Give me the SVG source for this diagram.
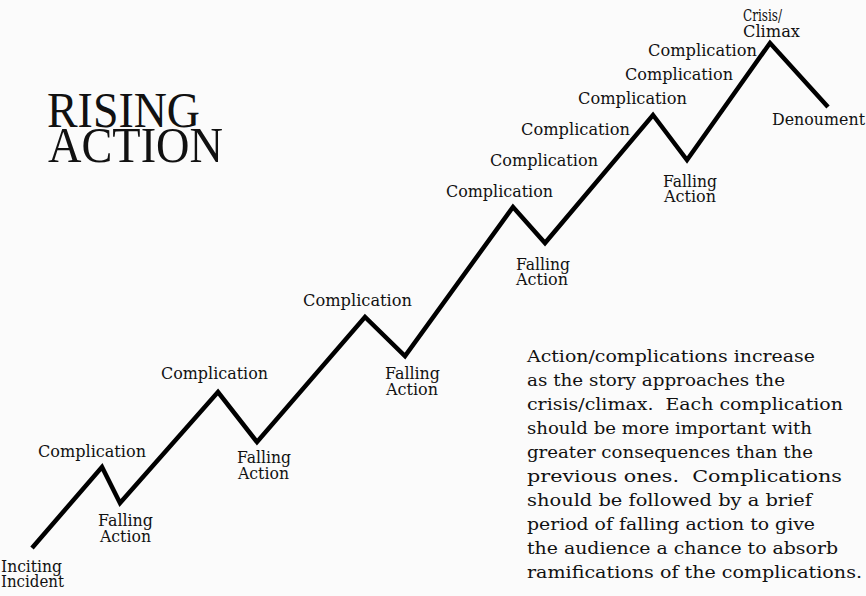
<svg xmlns="http://www.w3.org/2000/svg" width="866" height="596" viewBox="0 0 866 596">
<style>
text{font-family:"DejaVu Serif","Liberation Serif",serif;fill:#111}
.l{font-size:16px}
.p{font-size:17px}
.t{font-family:"Liberation Serif","Times New Roman",serif;font-size:50px}
.line{fill:none;stroke:#000;stroke-width:4.5;stroke-linejoin:miter;stroke-linecap:butt}
</style>
<rect width="866" height="596" fill="#fbfbfb"/>
<g id="title">
<text class="t" x="47" y="127" textLength="153" lengthAdjust="spacingAndGlyphs">RISING</text>
<text class="t" x="48" y="162" textLength="175" lengthAdjust="spacingAndGlyphs">ACTION</text>
</g>
<g id="connectors">
<polyline class="line" points="32,548 102,467 120,503 218,392 257,442 365,317 405,356 513,207 545,243 653,115 687,160 770,43 828,107"/>
</g>
<g id="inciting">
<text class="l" x="1" y="572" textLength="61" lengthAdjust="spacingAndGlyphs">Inciting</text>
<text class="l" x="1" y="587" textLength="63" lengthAdjust="spacingAndGlyphs">Incident</text>
</g>
<g id="comp1"><text class="l" x="38" y="457" textLength="108" lengthAdjust="spacingAndGlyphs">Complication</text></g>
<g id="fall1">
<text class="l" x="98" y="526" textLength="55" lengthAdjust="spacingAndGlyphs">Falling</text>
<text class="l" x="100" y="542" textLength="51" lengthAdjust="spacingAndGlyphs">Action</text>
</g>
<g id="comp2"><text class="l" x="161" y="379" textLength="107" lengthAdjust="spacingAndGlyphs">Complication</text></g>
<g id="fall2">
<text class="l" x="237" y="463" textLength="54" lengthAdjust="spacingAndGlyphs">Falling</text>
<text class="l" x="238" y="479" textLength="51" lengthAdjust="spacingAndGlyphs">Action</text>
</g>
<g id="comp3"><text class="l" x="303" y="306" textLength="109" lengthAdjust="spacingAndGlyphs">Complication</text></g>
<g id="fall3">
<text class="l" x="385" y="379" textLength="55" lengthAdjust="spacingAndGlyphs">Falling</text>
<text class="l" x="386" y="395" textLength="52" lengthAdjust="spacingAndGlyphs">Action</text>
</g>
<g id="comp4"><text class="l" x="446" y="197" textLength="107" lengthAdjust="spacingAndGlyphs">Complication</text></g>
<g id="fall4">
<text class="l" x="516" y="270" textLength="54" lengthAdjust="spacingAndGlyphs">Falling</text>
<text class="l" x="516" y="285" textLength="52" lengthAdjust="spacingAndGlyphs">Action</text>
</g>
<g id="comp5"><text class="l" x="490" y="166" textLength="108" lengthAdjust="spacingAndGlyphs">Complication</text></g>
<g id="comp6"><text class="l" x="521" y="135" textLength="109" lengthAdjust="spacingAndGlyphs">Complication</text></g>
<g id="comp7"><text class="l" x="578" y="104" textLength="109" lengthAdjust="spacingAndGlyphs">Complication</text></g>
<g id="fall5">
<text class="l" x="663" y="187" textLength="54" lengthAdjust="spacingAndGlyphs">Falling</text>
<text class="l" x="664" y="202" textLength="52" lengthAdjust="spacingAndGlyphs">Action</text>
</g>
<g id="comp8"><text class="l" x="625" y="80" textLength="108" lengthAdjust="spacingAndGlyphs">Complication</text></g>
<g id="comp9"><text class="l" x="648" y="56" textLength="109" lengthAdjust="spacingAndGlyphs">Complication</text></g>
<g id="climax">
<text class="l" x="743" y="21" textLength="39" lengthAdjust="spacingAndGlyphs">Crisis/</text>
<text class="l" x="743" y="37" textLength="57" lengthAdjust="spacingAndGlyphs">Climax</text>
</g>
<g id="denoument"><text class="l" x="772" y="125" textLength="93" lengthAdjust="spacingAndGlyphs">Denoument</text></g>
<g id="note">
<text class="p" x="527" y="362" textLength="288" lengthAdjust="spacingAndGlyphs">Action/complications increase</text>
<text class="p" x="527" y="386" textLength="258" lengthAdjust="spacingAndGlyphs">as the story approaches the</text>
<text class="p" x="527" y="410" textLength="316" lengthAdjust="spacingAndGlyphs" xml:space="preserve">crisis/climax.  Each complication</text>
<text class="p" x="527" y="434" textLength="285" lengthAdjust="spacingAndGlyphs">should be more important with</text>
<text class="p" x="527" y="458" textLength="286" lengthAdjust="spacingAndGlyphs">greater consequences than the</text>
<text class="p" x="527" y="482" textLength="315" lengthAdjust="spacingAndGlyphs" xml:space="preserve">previous ones.  Complications</text>
<text class="p" x="527" y="506" textLength="285" lengthAdjust="spacingAndGlyphs">should be followed by a brief</text>
<text class="p" x="527" y="530" textLength="288" lengthAdjust="spacingAndGlyphs">period of falling action to give</text>
<text class="p" x="527" y="554" textLength="311" lengthAdjust="spacingAndGlyphs">the audience a chance to absorb</text>
<text class="p" x="527" y="578" textLength="335" lengthAdjust="spacingAndGlyphs">ramifications of the complications.</text>
</g>
</svg>
